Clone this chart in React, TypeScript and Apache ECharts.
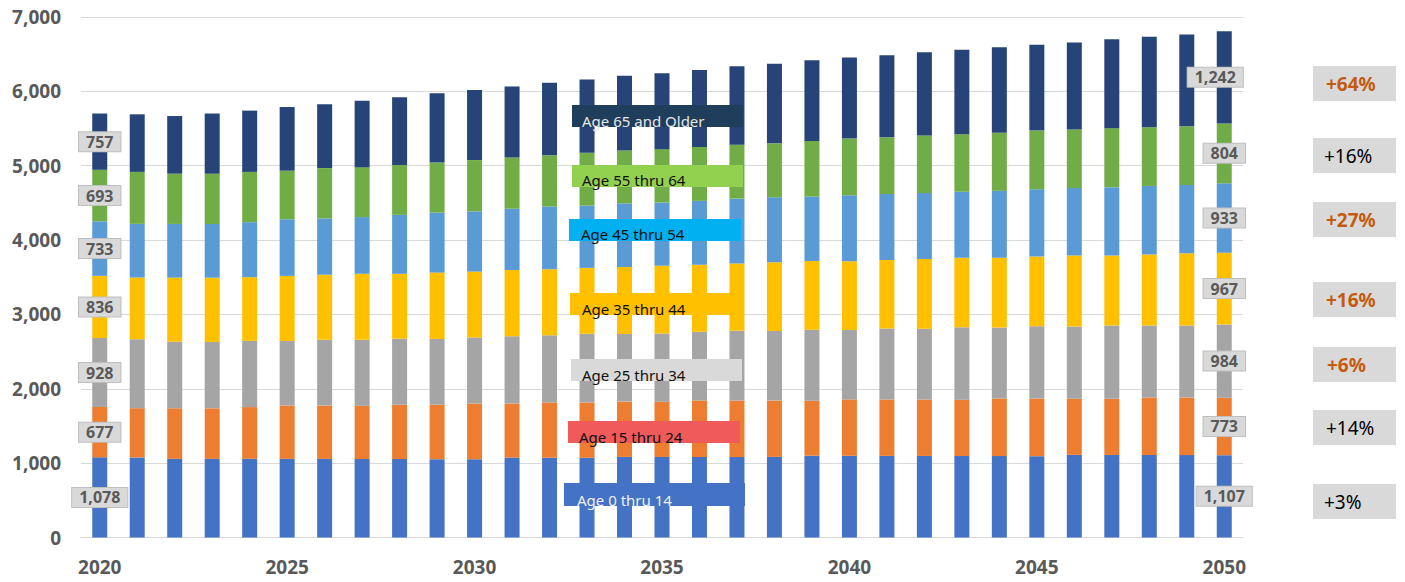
import React, { useEffect, useRef } from "react";
import * as echarts from "echarts";

const years = [
  "2020", "2021", "2022", "2023", "2024", "2025", "2026", "2027", "2028", "2029",
  "2030", "2031", "2032", "2033", "2034", "2035", "2036", "2037", "2038", "2039",
  "2040", "2041", "2042", "2043", "2044", "2045", "2046", "2047", "2048", "2049", "2050",
];

const age0to14 = [1078, 1077, 1058, 1057, 1059, 1058, 1057, 1056, 1055, 1054, 1053, 1075, 1073, 1072, 1084, 1083, 1082, 1081, 1084, 1100, 1099, 1098, 1097, 1096, 1095, 1094, 1111, 1110, 1109, 1108, 1107];
const age15to24 = [677, 662, 680, 680, 695, 717, 717, 717, 730, 730, 749, 726, 743, 743, 744, 744, 761, 761, 757, 739, 758, 758, 758, 758, 775, 775, 756, 756, 774, 774, 773];
const age25to34 = [928, 928, 893, 893, 891, 869, 887, 887, 887, 887, 887, 904, 905, 924, 910, 918, 924, 937, 937, 954, 935, 954, 954, 972, 955, 972, 972, 986, 968, 968, 984];
const age35to44 = [836, 829, 864, 864, 856, 874, 873, 887, 874, 892, 887, 892, 887, 887, 900, 910, 900, 905, 923, 924, 924, 922, 936, 937, 937, 937, 955, 941, 954, 973, 967];
const age45to54 = [733, 722, 722, 722, 740, 762, 758, 762, 793, 807, 810, 825, 843, 837, 855, 850, 860, 873, 874, 869, 887, 887, 887, 887, 900, 905, 905, 919, 923, 918, 933];
const age55to64 = [693, 699, 676, 676, 676, 653, 676, 672, 672, 672, 690, 689, 689, 712, 712, 718, 726, 726, 726, 748, 762, 763, 775, 774, 780, 789, 788, 793, 789, 789, 804];
const age65plus = [757, 774, 775, 810, 824, 856, 857, 891, 910, 931, 941, 955, 977, 986, 1004, 1021, 1035, 1054, 1070, 1085, 1089, 1102, 1120, 1134, 1150, 1156, 1169, 1196, 1218, 1236, 1242];

const seriesNames = ["Age 0 thru 14", "Age 15 thru 24", "Age 25 thru 34", "Age 35 thru 44", "Age 45 thru 54", "Age 55 thru 64", "Age 65 and Older"];
const seriesColors = ["#4472c4", "#ed7d31", "#a5a5a5", "#ffc000", "#5b9bd5", "#70ad47", "#264478"];
const growthLabels = ["+3%", "+14%", "+6%", "+16%", "+27%", "+16%", "+64%"];
const growthHighlight = [false, false, true, true, true, false, true];

const yTicks = [0, 1000, 2000, 3000, 4000, 5000, 6000, 7000];

const FONT = "'Noto Sans', 'Open Sans', sans-serif";

// legend box styling (annotation boxes drawn over the chart)
const legendBoxes = [
  { x: 572, y: 105, w: 171, h: 22, fill: "#1f3e5c", color: "#e6e6e6", tx: 582, ty: 121 },
  { x: 572, y: 165, w: 171, h: 22, fill: "#92d050", color: "#111111", tx: 582, ty: 180 },
  { x: 569, y: 219, w: 172, h: 22, fill: "#00b0f0", color: "#111111", tx: 581, ty: 234 },
  { x: 570, y: 293, w: 171, h: 22, fill: "#ffc000", color: "#111111", tx: 582, ty: 309 },
  { x: 571, y: 359, w: 171, h: 22, fill: "#d9d9d9", color: "#111111", tx: 582, ty: 375 },
  { x: 568, y: 421, w: 172, h: 22, fill: "#f05a5a", color: "#111111", tx: 579, ty: 437 },
  { x: 564, y: 483, w: 181, h: 23, fill: "#4472c4", color: "#f0f0f0", tx: 577, ty: 500 },
];
const legendOrder = [6, 5, 4, 3, 2, 1, 0];

// growth boxes, from top to bottom (series index 6..0)
const growthBoxes = [
  { y: 66, tx: 1326 },
  { y: 138, tx: 1324 },
  { y: 202, tx: 1326 },
  { y: 282, tx: 1326 },
  { y: 347, tx: 1327 },
  { y: 410, tx: 1326 },
  { y: 484, tx: 1324 },
];

export default function App() {
  const ref = useRef<HTMLDivElement>(null);

  useEffect(() => {
    if (!ref.current) return;
    const chart = echarts.init(ref.current, undefined, { renderer: "svg" });
    const allData = [age0to14, age15to24, age25to34, age35to44, age45to54, age55to64, age65plus];
    const last = years.length - 1;

    const labelStyle = {
      show: true,
      position: "inside",
      color: "#595959",
      fontWeight: "bold",
      fontSize: 16,
      fontFamily: FONT,
      backgroundColor: "#d9d9d9",
      borderColor: "#bfbfbf",
      borderWidth: 1,
      padding: [2, 7, 1, 7],
      formatter: (p: any) => Number(p.value).toLocaleString("en-US"),
    };

    const series = allData.map((arr, si) => ({
      name: seriesNames[si],
      type: "bar",
      stack: "total",
      barWidth: 15,
      itemStyle: { color: seriesColors[si] },
      label: { show: false },
      data: arr.map((v, i) =>
        i === 0 || i === last
          ? {
              value: v,
              label: { ...labelStyle, offset: si === 6 && i === last ? [-9, 0] : [0, 0] },
            }
          : v
      ),
    }));

    const graphic: any[] = [];
    legendOrder.forEach((si, k) => {
      const b = legendBoxes[k];
      graphic.push({
        type: "rect",
        z: 100,
        shape: { x: b.x, y: b.y, width: b.w, height: b.h },
        style: { fill: b.fill },
      });
      graphic.push({
        type: "text",
        z: 101,
        x: b.tx,
        y: b.ty,
        style: {
          text: seriesNames[si],
          fill: b.color,
          fontSize: 15,
          fontFamily: FONT,
          align: "left",
          verticalAlign: "middle",
        },
      });
    });
    legendOrder.forEach((si, k) => {
      const g = growthBoxes[k];
      graphic.push({
        type: "rect",
        z: 100,
        shape: { x: 1313, y: g.y, width: 83, height: 35 },
        style: { fill: "#d9d9d9" },
      });
      graphic.push({
        type: "text",
        z: 101,
        x: g.tx,
        y: g.y + 18,
        style: {
          text: growthLabels[si],
          fill: growthHighlight[si] ? "#c55a11" : "#000000",
          fontSize: 19,
          fontWeight: growthHighlight[si] ? "bold" : "normal",
          fontFamily: FONT,
          align: "left",
          verticalAlign: "middle",
        },
      });
    });

    chart.setOption({
      animation: false,
      grid: { left: 81, right: 162, top: 17, bottom: 44.5, containLabel: false },
      xAxis: {
        type: "category",
        data: years,
        axisTick: { show: false },
        axisLine: { show: true, lineStyle: { color: "#d9d9d9", width: 1 } },
        axisLabel: {
          interval: 4,
          color: "#595959",
          fontWeight: "bold",
          fontSize: 19,
          fontFamily: FONT,
          margin: 20,
        },
      },
      yAxis: {
        type: "value",
        min: yTicks[0],
        max: yTicks[yTicks.length - 1],
        interval: 1000,
        axisLine: { show: false },
        axisTick: { show: false },
        splitLine: { lineStyle: { color: "#d9d9d9", width: 1 } },
        axisLabel: {
          color: "#595959",
          fontWeight: "bold",
          fontSize: 19,
          fontFamily: FONT,
          margin: 20,
          formatter: (v: number) => v.toLocaleString("en-US"),
        },
      },
      series,
      graphic,
    });

    return () => chart.dispose();
  }, []);

  return (
    <div
      ref={ref}
      style={{ position: "fixed", left: 0, top: 0, width: 1405, height: 582, background: "#ffffff" }}
    />
  );
}
